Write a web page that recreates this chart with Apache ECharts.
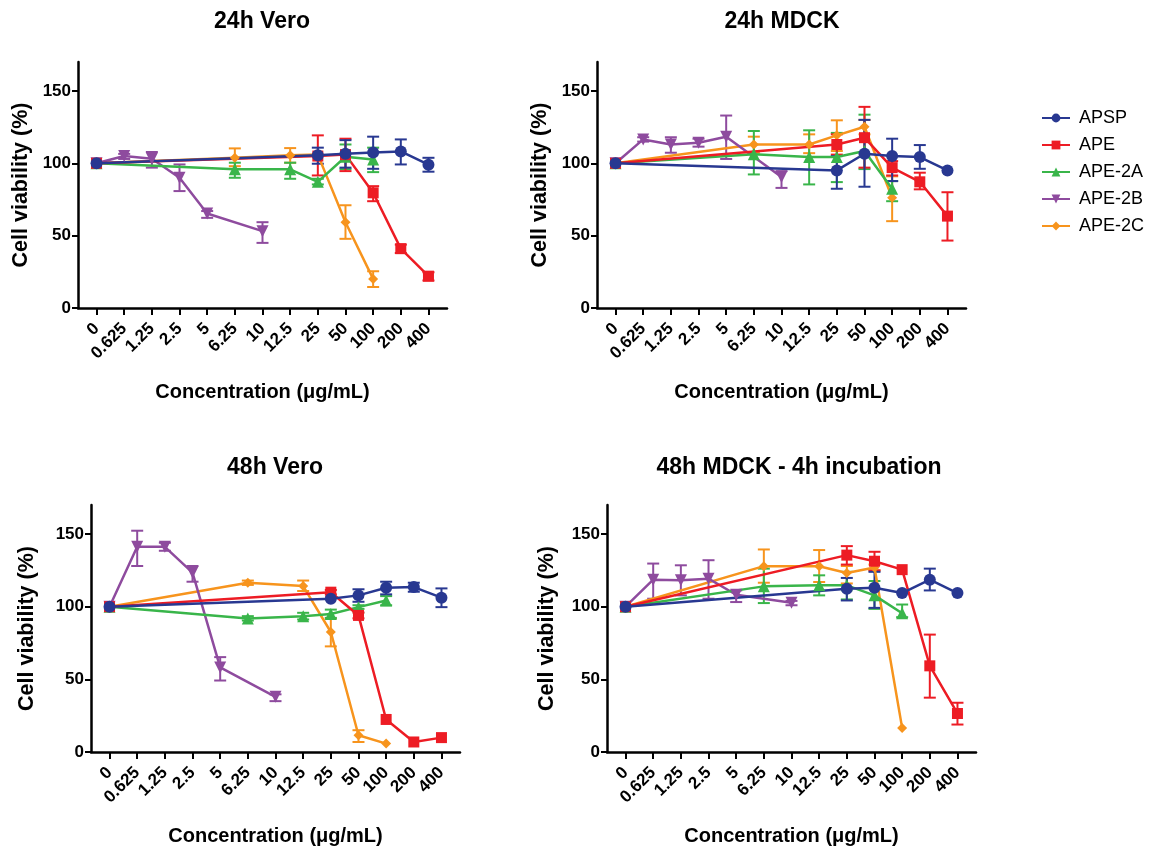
<!DOCTYPE html>
<html>
<head>
<meta charset="utf-8">
<script src="https://cdn.jsdelivr.net/npm/echarts@6/dist/echarts.min.js"></script>
<style>
html, body { margin: 0; padding: 0; background: #fff; }
#main { width: 1149px; height: 848px; }
</style>
</head>
<body>
<div id="main"></div>
<script>
var concLabels = ['0', '0.625', '1.25', '2.5', '5', '6.25', '10', '12.5', '25', '50', '100', '200', '400'];
var yTicks = [0, 50, 100, 150];
var seriesNames = ['APSP', 'APE', 'APE-2A', 'APE-2B', 'APE-2C'];

// rows: [concentration, mean, lower, upper]
var vero24Apsp = [['0', 100, 100, 100], ['25', 105.5, 99.7, 110.8], ['50', 106.6, 97, 116], ['100', 107.5, 96.2, 118.4], ['200', 108.2, 99.2, 116.5], ['400', 99, 94.2, 103.8]];
var vero24Ape = [['0', 100, 100, 100], ['25', 105, 91.6, 119.3], ['50', 106, 94.6, 117], ['100', 79.6, 73.8, 84.2], ['200', 41, 38, 43.8], ['400', 22, 19, 24.7]];
var vero24Ape2a = [['0', 100, 100, 100], ['6.25', 95.8, 90, 100.4], ['12.5', 95.8, 89.3, 100.4], ['25', 87.2, 85.4, 89.3], ['50', 104.5, 96, 113], ['100', 102.7, 93.9, 110.8]];
var vero24Ape2b = [['0', 100, 100, 100], ['0.625', 105, 103, 106.5], ['1.25', 103.2, 97, 107.8], ['2.5', 90, 80.8, 99.2], ['5', 65.3, 62.3, 67], ['10', 53.1, 45, 59.3]];
var vero24Ape2c = [['0', 100, 100, 100], ['6.25', 103.9, 98, 110.3], ['12.5', 105.5, 100.4, 110.5], ['25', 106, 106, 106], ['50', 59.3, 47.8, 71], ['100', 20.1, 14.5, 25.4]];

var mdck24Apsp = [['0', 100, 100, 100], ['25', 95.1, 82.4, 105], ['50', 106.6, 83.8, 130], ['100', 105, 87.7, 117], ['200', 104.3, 96.2, 112.6], ['400', 95.1, 95.1, 95.1]];
var mdck24Ape = [['0', 100, 100, 100], ['25', 113, 106, 120], ['50', 117.7, 97, 139], ['100', 97, 91.6, 101.5], ['200', 87.2, 82, 93.5], ['400', 63.5, 46.6, 80]];
var mdck24Ape2a = [['0', 100, 100, 100], ['6.25', 106.2, 92.3, 122.3], ['12.5', 104.3, 85.4, 122.8], ['25', 104.3, 87, 121], ['50', 108.5, 96, 133.6], ['100', 82.4, 73.8, 87.7]];
var mdck24Ape2b = [['0', 100, 100, 100], ['0.625', 116.5, 115, 118], ['1.25', 113, 107.3, 118], ['2.5', 114.2, 111.5, 117], ['5', 118.4, 103, 133], ['10', 90.5, 83, 94.6]];
var mdck24Ape2c = [['0', 100, 100, 100], ['6.25', 113, 107.3, 118.4], ['12.5', 113, 107, 120], ['25', 119.3, 108.5, 129.7], ['50', 125.3, 120, 130], ['100', 76.2, 60, 91]];

var vero48Apsp = [['0', 100, 100, 100], ['25', 105.5, 105.5, 105.5], ['50', 107.8, 103.4, 112], ['100', 113, 108.5, 117.2], ['200', 113.5, 110.3, 116.5], ['400', 106.2, 99.7, 112.6]];
var vero48Ape = [['0', 100, 100, 100], ['25', 110, 108.5, 111.5], ['50', 94, 92, 96], ['100', 22.4, 22.4, 22.4], ['200', 6.9, 6.9, 6.9], ['400', 9.9, 9.9, 9.9]];
var vero48Ape2a = [['0', 100, 100, 100], ['6.25', 91.8, 90.5, 93.5], ['12.5', 93.5, 91.2, 95.8], ['25', 95, 92.3, 98], ['50', 99.7, 98.5, 101], ['100', 104.3, 101, 107.3]];
var vero48Ape2b = [['0', 100, 100, 100], ['0.625', 141.2, 128, 152.3], ['1.25', 141.2, 138.5, 144], ['2.5', 123.5, 117.2, 128], ['5', 58.2, 49.2, 65.3], ['10', 38, 35, 39.7]];
var vero48Ape2c = [['0', 100, 100, 100], ['6.25', 116.5, 115, 118], ['12.5', 114.2, 110.8, 118], ['25', 82.6, 72.7, 91.9], ['50', 11.5, 6.9, 15], ['100', 5.8, 5.8, 5.8]];

var mdck48Apsp = [['0', 100, 100, 100], ['25', 112.4, 104.3, 119.8], ['50', 113, 99.2, 124], ['100', 109.4, 109.4, 109.4], ['200', 118.6, 111.2, 126.2], ['400', 109.4, 109.4, 109.4]];
var mdck48Ape = [['0', 100, 100, 100], ['25', 135.5, 129, 141.7], ['50', 131.3, 125, 137.8], ['100', 125.5, 125.5, 125.5], ['200', 59.3, 37.4, 80.8], ['400', 26.5, 18.9, 33.9]];
var mdck48Ape2a = [['0', 100, 100, 100], ['6.25', 114, 102.5, 126.2], ['12.5', 114.7, 107.8, 121.6], ['25', 114.7, 105, 124], ['50', 107.8, 98.5, 117.7], ['100', 95.5, 92.8, 101.5]];
var mdck48Ape2b = [['0', 100, 100, 100], ['0.625', 118.6, 105.5, 129.7], ['1.25', 118.2, 107.8, 128.5], ['2.5', 119.3, 105.5, 132], ['5', 108.2, 103.2, 111.2], ['10', 102.7, 101, 104]];
var mdck48Ape2c = [['0', 100, 100, 100], ['6.25', 127.9, 116.5, 139.4], ['12.5', 127.9, 117, 139], ['25', 123.2, 116, 128], ['50', 127, 125, 129], ['100', 16.6, 16.6, 16.6]];

var font = 'Arial, "Liberation Sans", Helvetica, sans-serif';
var colors = ['#283891', '#ED1C24', '#39B54A', '#8E4B9E', '#F7941D'];
var symbols = ['circle', 'rect', 'triangle', 'path://M0,0L10,0L5,9Z', 'diamond'];
var symbolSizes = [12, 11, 12, 12, 10];

var panels = [
    {title: '24h Vero', tx: 262, ty: 10, grid: {left: 78, top: 62, width: 369, height: 246}, yGap: 46,
        data: [vero24Apsp, vero24Ape, vero24Ape2a, vero24Ape2b, vero24Ape2c]},
    {title: '24h MDCK', tx: 782, ty: 10, grid: {left: 597, top: 62, width: 369, height: 246}, yGap: 46,
        data: [mdck24Apsp, mdck24Ape, mdck24Ape2a, mdck24Ape2b, mdck24Ape2c]},
    {title: '48h Vero', tx: 275, ty: 456, grid: {left: 91, top: 505, width: 369, height: 247}, yGap: 53,
        data: [vero48Apsp, vero48Ape, vero48Ape2a, vero48Ape2b, vero48Ape2c]},
    {title: '48h MDCK - 4h incubation', tx: 799, ty: 456, grid: {left: 607, top: 505, width: 369, height: 247}, yGap: 49,
        data: [mdck48Apsp, mdck48Ape, mdck48Ape2a, mdck48Ape2b, mdck48Ape2c]}
];

var tickIdx = concLabels.map(function (c, i) { return i; });

function toRows(rows) {
    return rows.map(function (r) {
        return [concLabels.indexOf(r[0]), r[1], r[2], r[3]];
    });
}

function errorBar(color) {
    return function (params, api) {
        var x = api.value(0), lo = api.value(2), hi = api.value(3);
        if (hi - lo <= 0) return null;
        var top = api.coord([x, hi]);
        var bot = api.coord([x, lo]);
        var w = 6;
        var st = {stroke: color, lineWidth: 2};
        return {
            type: 'group',
            children: [
                {type: 'line', shape: {x1: top[0], y1: top[1], x2: bot[0], y2: bot[1]}, style: st},
                {type: 'line', shape: {x1: top[0] - w, y1: top[1], x2: top[0] + w, y2: top[1]}, style: st},
                {type: 'line', shape: {x1: bot[0] - w, y1: bot[1], x2: bot[0] + w, y2: bot[1]}, style: st}
            ]
        };
    };
}

var option = {
    animation: false,
    backgroundColor: '#fff',
    title: [],
    grid: [],
    xAxis: [],
    yAxis: [],
    series: [],
    legend: {
        data: seriesNames,
        orient: 'vertical',
        left: 1036,
        top: 104,
        itemWidth: 28,
        itemHeight: 11,
        itemGap: 9,
        textStyle: {fontFamily: font, fontSize: 18, color: '#000', padding: [0, 0, 0, 4]}
    }
};

panels.forEach(function (p, i) {
    option.title.push({
        text: p.title,
        left: p.tx,
        top: p.ty,
        textAlign: 'center',
        padding: 0,
        textStyle: {fontFamily: font, fontSize: 23, fontWeight: 'bold', color: '#000'}
    });
    option.grid.push(p.grid);
    option.xAxis.push({
        gridIndex: i,
        type: 'value',
        min: -0.67,
        max: 12.67,
        name: 'Concentration (μg/mL)',
        nameLocation: 'middle',
        nameGap: 74,
        nameTextStyle: {fontFamily: font, fontSize: 20, fontWeight: 'bold', color: '#000'},
        axisLine: {onZero: false, lineStyle: {color: '#000', width: 2.5}},
        axisTick: {customValues: tickIdx, length: 7, lineStyle: {color: '#000', width: 2}},
        axisLabel: {
            customValues: tickIdx,
            rotate: 45,
            margin: 18,
            fontFamily: font,
            fontSize: 17,
            fontWeight: 'bold',
            color: '#000',
            formatter: function (v) { return concLabels[Math.round(v)]; }
        },
        splitLine: {show: false}
    });
    option.yAxis.push({
        gridIndex: i,
        type: 'value',
        min: 0,
        max: 170,
        name: 'Cell viability (%)',
        nameLocation: 'middle',
        nameGap: p.yGap,
        nameRotate: 90,
        nameTextStyle: {fontFamily: font, fontSize: 21.5, fontWeight: 'bold', color: '#000'},
        axisLine: {show: true, onZero: false, lineStyle: {color: '#000', width: 2.5}},
        axisTick: {show: true, customValues: yTicks, length: 6, lineStyle: {color: '#000', width: 2}},
        axisLabel: {customValues: yTicks, margin: 7, fontFamily: font, fontSize: 17, fontWeight: 'bold', color: '#000'},
        splitLine: {show: false}
    });
    // draw APE-2C first, APSP last so blue sits on top
    for (var k = seriesNames.length - 1; k >= 0; k--) {
        var rows = toRows(p.data[k]);
        option.series.push({
            name: seriesNames[k] + ' error',
            type: 'custom',
            xAxisIndex: i,
            yAxisIndex: i,
            silent: true,
            renderItem: errorBar(colors[k]),
            encode: {x: 0, y: 1},
            data: rows
        });
        option.series.push({
            name: seriesNames[k],
            type: 'line',
            xAxisIndex: i,
            yAxisIndex: i,
            symbol: symbols[k],
            symbolSize: symbolSizes[k],
            showAllSymbol: true,
            color: colors[k],
            lineStyle: {width: 2.5, color: colors[k]},
            itemStyle: {color: colors[k]},
            data: rows.map(function (r) { return [r[0], r[1]]; })
        });
    }
});

var myChart = echarts.init(document.getElementById('main'));
myChart.setOption(option);
</script>
</body>
</html>
